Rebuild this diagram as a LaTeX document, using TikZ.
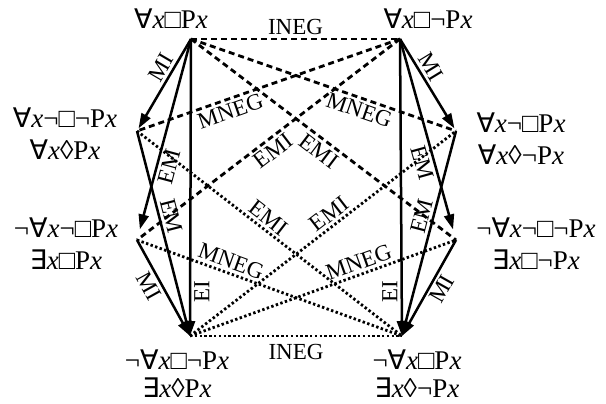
\documentclass[tikz,border=0pt]{standalone}
\usepackage{fontspec}
\setmainfont{Liberation Serif}
\newfontfamily\qfont{DejaVu Sans}
\usetikzlibrary{positioning,arrows.meta}
\newcommand{\All}{{\qfont ∀}}
\newcommand{\Some}{{\qfont ∃}}
\newcommand{\vx}{\textit{x}}
\tikzset{
formula/.style={font=\fontsize{27}{32}\selectfont,align=center,inner sep=0pt},
rel/.style={font=\fontsize{23}{25}\selectfont,inner sep=3pt,sloped},
vrel/.style={font=\fontsize{23}{25}\selectfont,inner sep=3pt,rotate=90},
impl/.style={-{Triangle[length=15pt,width=10pt]},line width=2.5pt},
contra/.style={line width=2.8pt,dash pattern=on 6pt off 4pt},
subc/.style={line width=2.8pt,dash pattern=on 2.4pt off 2.4pt}
}

\begin{document}
\begin{tikzpicture}[x=1pt,y=-1pt]
\useasboundingbox (0,0) rectangle (606,404);
% corners of the hexagon
\coordinate (TL) at (191,39);
\coordinate (TR) at (400,39);
\coordinate (ML) at (137,131);
\coordinate (MR) at (456,131);
\coordinate (LL) at (137,240);
\coordinate (LR) at (456,240);
\coordinate (BL) at (190,336);
\coordinate (BR) at (402,336);
% formulas
\node[formula] (fTL) at (171,19) {\All\vx□P\vx};
\node[formula] (fTR) at (428,19) {\All\vx□¬P\vx};
\node[formula] (fML) at (65,134) {\All\vx¬□¬P\vx\\\All\vx◊P\vx};
\node[formula] (fMR) at (521,139) {\All\vx¬□P\vx\\\All\vx◊¬P\vx};
\node[formula] (fLL) at (66,244) {¬\All\vx¬□P\vx\\\Some\vx□P\vx};
\node[formula] (fLR) at (536,244) {¬\All\vx¬□¬P\vx\\\Some\vx□¬P\vx};
\node[formula] (fBL) at (177,374) {¬\All\vx□¬P\vx\\[-4pt]\Some\vx◊P\vx};
\node[formula] (fBR) at (417,374) {¬\All\vx□P\vx\\[-4pt]\Some\vx◊¬P\vx};
% contraries
\draw[contra] (TL) -- node[rel,above] {INEG} (TR);
\draw[contra] (TL) -- node[rel,below,pos=0.65] {MNEG} (MR);
\draw[contra] (TR) -- node[rel,below,pos=0.66] {MNEG} (ML);
\draw[contra] (TL) -- node[rel,below,pos=0.51] {EMI} (LR);
\draw[contra] (TR) -- node[rel,below,pos=0.51] {EMI} (LL);
% subcontraries
\draw[subc] (BL) -- node[rel,below=4pt] {INEG} (BR);
\draw[subc] (ML) -- node[rel,above,pos=0.47] {EMI} (BR);
\draw[subc] (BL) -- node[rel,above,pos=0.55] {EMI} (MR);
\draw[subc] (LL) -- node[rel,above,pos=0.34] {MNEG} (BR);
\draw[subc] (BL) -- node[rel,above,pos=0.65] {MNEG} (LR);
% implications
\draw[impl,shorten >=3pt] (TL) -- node[rel,above,pos=0.37] {MI} (ML);
\draw[impl,shorten >=11pt] (TL) -- node[rel,below,pos=0.62] {EM} (LL);
\draw[impl] (ML) -- node[rel,above,pos=0.43] {EM} (BL);
\draw[impl] (LL) -- node[rel,below,pos=0.42] {MI} (BL);
\draw[impl] (TL) -- node[vrel,anchor=north,pos=0.85] {EI} (BL);
\draw[impl,shorten >=3pt] (TR) -- node[rel,above,pos=0.37] {MI} (MR);
\draw[impl,shorten >=11pt] (TR) -- node[rel,below,pos=0.6] {EM} (LR);
\draw[impl] (MR) -- node[rel,above,pos=0.43] {EM} (BR);
\draw[impl] (LR) -- node[rel,below,pos=0.45] {MI} (BR);
\draw[impl] (TR) -- node[vrel,anchor=south,pos=0.85] {EI} (BR);
\end{tikzpicture}
\end{document}
